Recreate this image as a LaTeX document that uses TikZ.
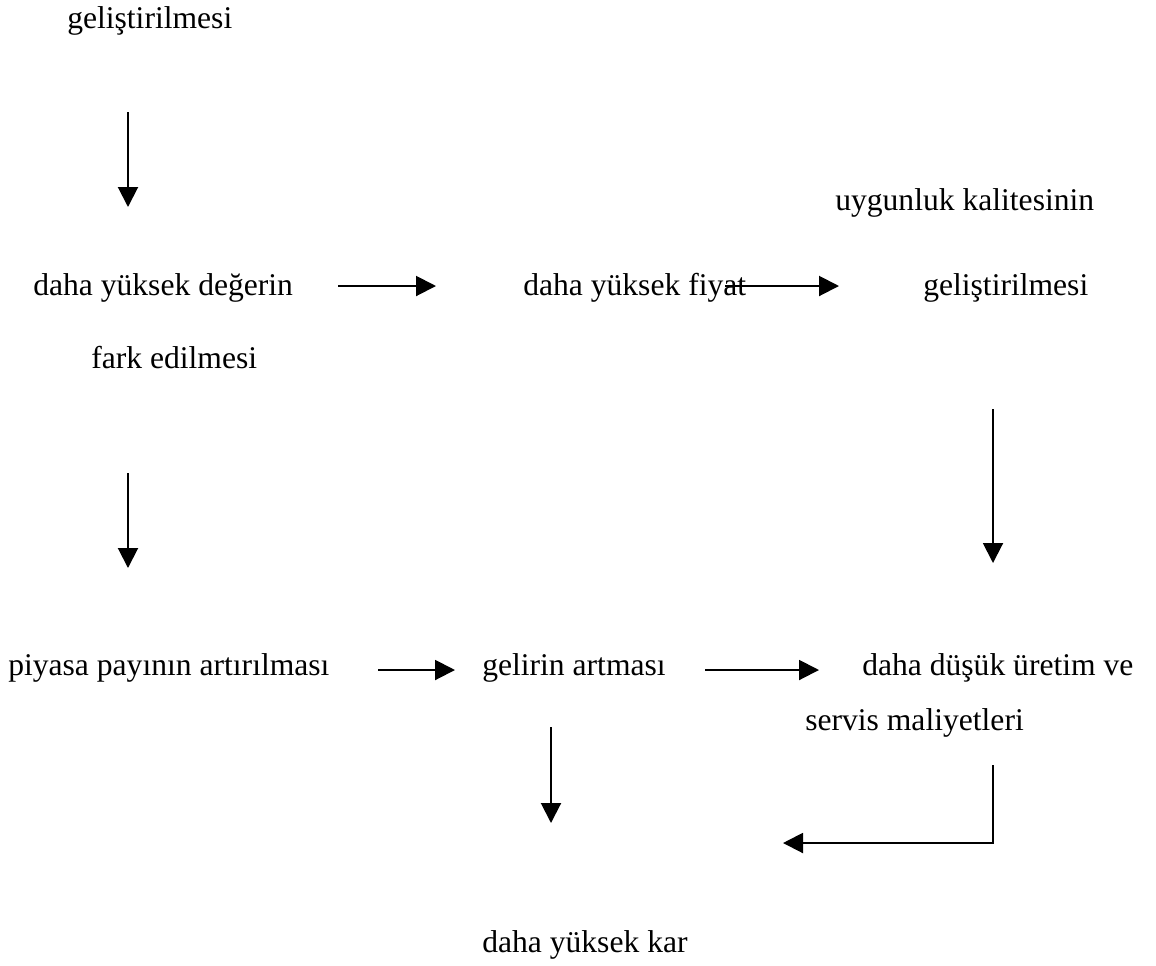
\documentclass[tikz,border=0pt]{standalone}
\usepackage{fontspec}
\setmainfont{Liberation Serif}
\usetikzlibrary{arrows.meta}
\begin{document}
\begin{tikzpicture}[x=0.75pt,y=-0.75pt,
  lbl/.style={anchor=base west, inner sep=0pt, font=\fontsize{23.7}{28}\selectfont},
  flow/.style={line width=1.5pt, -{Triangle[length=15pt,width=15pt]}}]
\useasboundingbox (0,0) rectangle (1156,965);

% labels
\node[lbl] (t1)  at (67,28)   {geliştirilmesi};
\node[lbl] (t2)  at (33,295)  {daha yüksek değerin};
\node[lbl] (t3)  at (91,368)  {fark edilmesi};
\node[lbl] (t4)  at (523,295) {daha yüksek fiyat};
\node[lbl] (t5)  at (835,210) {uygunluk kalitesinin};
\node[lbl] (t6)  at (923,295) {geliştirilmesi};
\node[lbl] (t7)  at (8,675)   {piyasa payının artırılması};
\node[lbl] (t8)  at (482,675) {gelirin artması};
\node[lbl] (t9)  at (862,675) {daha düşük üretim ve};
\node[lbl] (t10) at (805,730) {servis maliyetleri};
\node[lbl] (t11) at (482,952) {daha yüksek kar};

% arrow end points
\coordinate (a1s) at (128,112); \coordinate (a1e) at (128,207);
\coordinate (a2s) at (338,286); \coordinate (a2e) at (436,286);
\coordinate (a3s) at (725,286); \coordinate (a3e) at (839,286);
\coordinate (a4s) at (993,409); \coordinate (a4e) at (993,563);
\coordinate (a5s) at (128,473); \coordinate (a5e) at (128,568);
\coordinate (a6s) at (378,670); \coordinate (a6e) at (455,670);
\coordinate (a7s) at (705,670); \coordinate (a7e) at (819,670);
\coordinate (a8s) at (551,727); \coordinate (a8e) at (551,823);
\coordinate (a9s) at (993,765); \coordinate (a9c) at (993,843); \coordinate (a9e) at (783,843);

% arrows
\draw[flow] (a1s) -- (a1e);
\draw[flow] (a2s) -- (a2e);
\draw[flow] (a3s) -- (a3e);
\draw[flow] (a4s) -- (a4e);
\draw[flow] (a5s) -- (a5e);
\draw[flow] (a6s) -- (a6e);
\draw[flow] (a7s) -- (a7e);
\draw[flow] (a8s) -- (a8e);
\draw[flow] (a9s) -- (a9c) -- (a9e);
\end{tikzpicture}
\end{document}
